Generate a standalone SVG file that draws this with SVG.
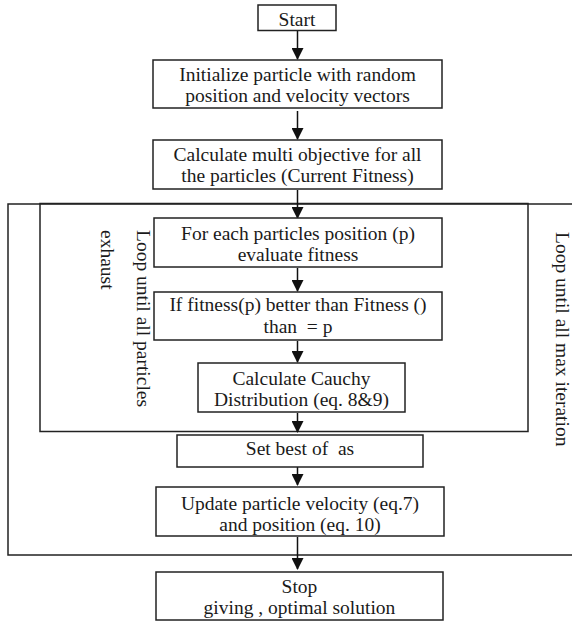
<svg xmlns="http://www.w3.org/2000/svg" width="572" height="621" viewBox="0 0 572 621">
  <style>
    .box { fill: #ffffff; stroke: #222222; stroke-width: 1.5; }
    .frame { fill: none; stroke: #222222; stroke-width: 1.5; }
    .link { fill: none; stroke: #111111; stroke-width: 1.5; }
    text { font-family: "Liberation Serif", "Times New Roman", serif; font-size: 19.5px; fill: #1a1a1a; white-space: pre; }
    .c { text-anchor: middle; }
  </style>
  <defs>
    <marker id="arrow" viewBox="0 0 12 13" refX="12" refY="6.5" markerWidth="13" markerHeight="12" markerUnits="userSpaceOnUse" orient="auto">
      <path d="M0,0 L13,6.5 L0,13 Z" fill="#111111"/>
    </marker>
  </defs>

  <rect width="572" height="621" fill="#ffffff"/>

  <!-- loop frames -->
  <g id="loop-iterations">
    <rect class="frame" x="8" y="204" width="580" height="351"/>
    <text transform="translate(556,232) rotate(90)">Loop until all max iteration</text>
  </g>
  <g id="loop-particles">
    <rect class="frame" x="40" y="203.5" width="488" height="228"/>
    <text transform="translate(137,230) rotate(90)">Loop until all particles</text>
    <text transform="translate(101,230) rotate(90)">exhaust</text>
  </g>

  <!-- connectors -->
  <g id="connectors">
    <line class="link" x1="297.5" y1="31" x2="297.5" y2="59" marker-end="url(#arrow)"/>
    <line class="link" x1="297.5" y1="111" x2="297.5" y2="139" marker-end="url(#arrow)"/>
    <line class="link" x1="297.5" y1="190" x2="297.5" y2="218" marker-end="url(#arrow)"/>
    <line class="link" x1="297.5" y1="268" x2="297.5" y2="291" marker-end="url(#arrow)"/>
    <line class="link" x1="297.5" y1="341" x2="297.5" y2="362" marker-end="url(#arrow)"/>
    <line class="link" x1="297.5" y1="413" x2="297.5" y2="432" marker-end="url(#arrow)"/>
    <line class="link" x1="297.5" y1="467" x2="297.5" y2="485" marker-end="url(#arrow)"/>
    <line class="link" x1="297.5" y1="537" x2="297.5" y2="569" marker-end="url(#arrow)"/>
  </g>

  <!-- process steps -->
  <g id="start">
    <rect class="box" x="258" y="5" width="78" height="25.5"/>
    <text class="c" x="297" y="26">Start</text>
  </g>
  <g id="initialize">
    <rect class="box" x="153" y="60" width="289" height="48"/>
    <text class="c" x="297.5" y="81">Initialize particle with random</text>
    <text class="c" x="297.5" y="102">position and velocity vectors</text>
  </g>
  <g id="multi-objective">
    <rect class="box" x="153" y="140" width="289" height="49"/>
    <text class="c" x="297.5" y="161">Calculate multi objective for all</text>
    <text class="c" x="297.5" y="182">the particles (Current Fitness)</text>
  </g>
  <g id="evaluate">
    <rect class="box" x="154" y="218" width="288" height="49"/>
    <text class="c" x="298" y="240">For each particles position (p)</text>
    <text class="c" x="298" y="261">evaluate fitness</text>
  </g>
  <g id="compare">
    <rect class="box" x="154" y="292" width="288" height="48"/>
    <text class="c" x="298" y="311">If fitness(p) better than Fitness ()</text>
    <text class="c" x="298" y="333">than  = p</text>
  </g>
  <g id="cauchy">
    <rect class="box" x="198" y="363" width="207" height="49"/>
    <text class="c" x="301.5" y="385">Calculate Cauchy</text>
    <text class="c" x="301.5" y="406">Distribution (eq. 8&amp;9)</text>
  </g>
  <g id="set-best">
    <rect class="box" x="177" y="435" width="246" height="32"/>
    <text class="c" x="300" y="455">Set best of  as</text>
  </g>
  <g id="update">
    <rect class="box" x="156" y="487" width="288" height="49"/>
    <text class="c" x="300" y="510">Update particle velocity (eq.7)</text>
    <text class="c" x="300" y="531">and position (eq. 10)</text>
  </g>
  <g id="stop">
    <rect class="box" x="156" y="572" width="287" height="48"/>
    <text class="c" x="299.5" y="593">Stop</text>
    <text class="c" x="299.5" y="614">giving , optimal solution</text>
  </g>
</svg>
